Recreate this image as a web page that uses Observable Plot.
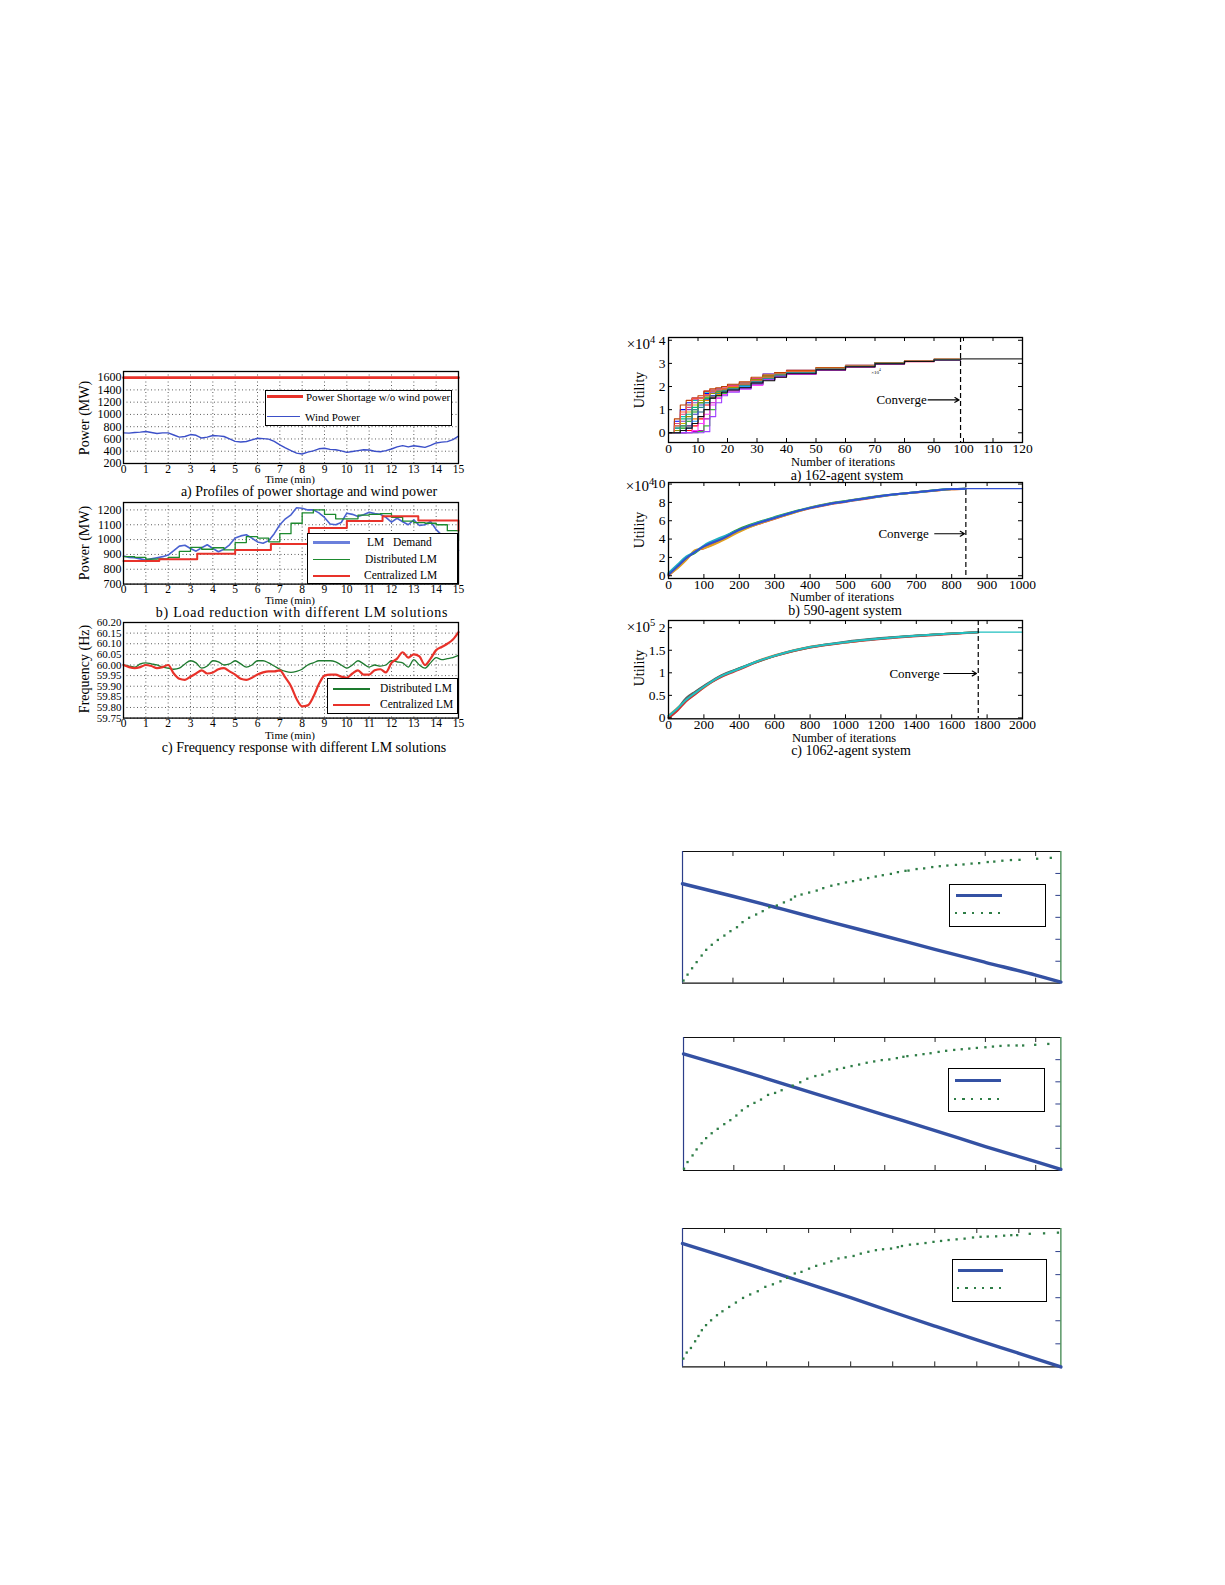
<!DOCTYPE html>
<html><head><meta charset="utf-8">
<script src="https://cdn.jsdelivr.net/npm/d3@7"></script>
<script src="https://cdn.jsdelivr.net/npm/@observablehq/plot@0.6"></script>
<style>
body{margin:0;background:#fff;}
#page{position:relative;width:1225px;height:1585px;overflow:hidden;background:#fff;font-family:"Liberation Serif","Times New Roman",serif;color:#000;}
.t{position:absolute;white-space:pre;transform:translate(-50%,-50%);line-height:1;}
.tl{position:absolute;white-space:pre;transform:translate(0,-50%);line-height:1;}
.bx{position:absolute;border:1.2px solid #000;box-sizing:border-box;background:#fff;}
.ln{position:absolute;}
sup{font-size:0.7em;}
</style></head><body><div id="page"></div>
<script>
// ---------------- DATA ----------------
// Left (a): power shortage & wind power
const minuteTicks = [0,1,2,3,4,5,6,7,8,9,10,11,12,13,14,15];
const powerTicksA = [200,400,600,800,1000,1200,1400,1600];
const shortageTime = [0, 15];
const shortage = [1600, 1600];
const windTime = [0,0.25,0.5,0.75,1,1.25,1.5,1.75,2,2.25,2.5,2.75,3,3.25,3.5,3.75,4,4.25,4.5,4.75,5,5.25,5.5,5.75,6,6.25,6.5,6.75,7,7.25,7.5,7.75,8,8.25,8.5,8.75,9,9.25,9.5,9.75,10,10.25,10.5,10.75,11,11.25,11.5,11.75,12,12.25,12.5,12.75,13,13.25,13.5,13.75,14,14.25,14.5,14.75,15];
const windPower = [700,695,705,712,722,705,690,700,700,665,630,640,672,660,615,630,656,650,640,600,560,550,558,585,612,605,598,560,505,455,410,370,355,385,405,440,448,430,425,405,382,395,410,425,420,400,392,410,436,470,492,470,490,478,462,495,535,548,557,590,645];

// Left (b): load reduction
const powerTicksB = [700,800,900,1000,1100,1200];
const demandTime = windTime;
const lmDemand = [889,880,878,870,862,870,878,885,896,925,956,962,940,922,945,965,940,918,935,965,1011,1025,1033,1010,984,975,993,1040,1100,1140,1167,1215,1211,1200,1200,1180,1149,1105,1100,1115,1178,1170,1156,1168,1184,1175,1171,1150,1118,1144,1120,1100,1133,1095,1100,1122,1067,1030,1000,965,927];
const distTime = [0,0.5,1,1.5,2,2.5,3,3.5,4,4.5,5,5.5,6,6.5,7,7.5,8,8.5,9,9.5,10,10.5,11,11.5,12,12.5,13,13.5,14,14.5,15];
const distributedLM = [885,880,868,870,880,920,948,935,945,930,980,1020,1010,985,1040,1110,1180,1200,1170,1140,1140,1165,1170,1175,1150,1125,1115,1110,1100,1060,990];
const centTime = [0,1.6,3.3,5,6.6,8.3,10,11.6,13.2,15];
const centralizedLM = [855,868,905,930,970,1078,1125,1158,1128,1060];

// Left (c): frequency response
const freqTicks = [59.75,59.80,59.85,59.90,59.95,60.00,60.05,60.10,60.15,60.20];
const freqTime = windTime;
const freqDistributed = [60.00,59.995,59.99,60.005,60.01,60.005,60.00,59.99,59.985,59.98,59.985,60.005,60.02,60.01,59.985,59.995,60.02,60.015,60.00,60.005,60.02,60.005,59.99,60.00,60.02,60.02,60.01,59.995,59.98,59.97,59.965,59.97,59.98,60.00,60.01,60.02,60.02,60.02,60.015,60.00,59.985,60.00,60.02,60.005,59.99,60.00,59.995,60.00,60.02,60.015,60.01,59.99,60.025,60.00,59.985,60.01,60.035,60.025,60.03,60.035,60.045];
const freqCentralized = [60.00,59.99,59.985,59.99,60.00,59.995,59.985,59.99,60.00,59.96,59.935,59.93,59.945,59.96,59.975,59.96,59.965,59.98,59.985,59.97,59.955,59.935,59.93,59.94,59.955,59.965,59.97,59.97,59.975,59.94,59.90,59.84,59.805,59.81,59.85,59.91,59.95,59.955,59.955,59.945,59.94,59.96,59.975,59.955,59.955,59.975,59.98,59.965,60.01,60.03,60.06,60.035,60.05,60.04,60.00,60.03,60.07,60.085,60.10,60.12,60.155];

// Right (a): 162-agent system (utility x1e4)
const iterTicksA = [0,10,20,30,40,50,60,70,80,90,100,110,120];
const utilTicksA = [0,1,2,3,4];
const iterA = [0,2,4,6,8,10,12,14,16,18,20,24,28,32,36,40,50,60,70,80,90,99];
const agentsA = [
  [0,0.5,1.0,1.3,1.5,1.5,1.7,1.8,1.85,1.9,2.0,2.1,2.3,2.45,2.55,2.65,2.78,2.9,3.0,3.1,3.17,3.2],
  [0,0,0.2,0.5,0.9,1.3,1.5,1.6,1.8,1.9,1.95,2.05,2.2,2.4,2.5,2.6,2.75,2.88,3.0,3.1,3.17,3.2],
  [0,0,0,0.1,0.3,0.6,1.2,1.55,1.7,1.8,1.9,2.0,2.15,2.3,2.45,2.55,2.72,2.87,3.0,3.08,3.16,3.2],
  [0,0.3,0.7,1.2,1.4,1.5,1.75,1.8,1.9,2.0,2.05,2.15,2.3,2.4,2.6,2.65,2.8,2.9,3.02,3.1,3.17,3.2],
  [0,0,0,0,0.05,0.1,0.6,1.3,1.5,1.7,1.85,2.0,2.2,2.35,2.5,2.6,2.74,2.86,2.98,3.08,3.16,3.2],
  [0,0.1,0.4,0.9,1.2,1.4,1.6,1.7,1.75,1.85,1.95,2.1,2.25,2.5,2.55,2.65,2.77,2.9,3.0,3.1,3.18,3.2],
  [0,0,0.1,0.3,0.6,0.9,1.4,1.5,1.65,1.8,1.9,2.0,2.1,2.3,2.4,2.55,2.7,2.85,2.97,3.07,3.15,3.2],
  [0,0.2,0.5,1.0,1.3,1.5,1.6,1.75,1.8,1.9,2.0,2.1,2.25,2.55,2.6,2.7,2.8,2.92,3.03,3.11,3.18,3.2],
  [0,0,0,0.2,0.5,0.9,1.3,1.6,1.7,1.75,1.9,2.0,2.2,2.3,2.45,2.6,2.75,2.88,3.0,3.09,3.16,3.2],
  [0,0.4,0.8,1.1,1.45,1.5,1.8,1.85,1.9,1.95,2.05,2.15,2.35,2.45,2.6,2.68,2.8,2.9,3.02,3.12,3.18,3.2],
  [0,0,0,0,0,0.05,0.3,1.0,1.6,1.7,1.8,1.95,2.1,2.4,2.5,2.62,2.76,2.89,3.01,3.1,3.17,3.2],
  [0,0.6,1.2,1.4,1.5,1.6,1.8,1.9,1.95,2.0,2.1,2.2,2.4,2.5,2.6,2.7,2.82,2.92,3.04,3.12,3.18,3.2],
  [0,0,0,0.3,0.8,1.2,1.45,1.6,1.7,1.8,1.85,1.95,2.15,2.35,2.45,2.58,2.74,2.87,2.99,3.09,3.16,3.2],
  [0,0.2,0.6,0.8,1.1,1.3,1.5,1.7,1.8,1.85,2.0,2.05,2.25,2.4,2.55,2.63,2.78,2.89,3.01,3.1,3.17,3.2],
  [0,0,0,0,0.1,0.4,0.8,1.2,1.5,1.65,1.8,1.9,2.05,2.3,2.4,2.52,2.7,2.84,2.97,3.07,3.15,3.2],
  [0,0.1,0.3,0.7,1.0,1.3,1.55,1.7,1.75,1.9,1.95,2.1,2.3,2.45,2.5,2.64,2.79,2.91,3.02,3.11,3.18,3.2],
  [0,0,0,0,0,0,0.05,0.7,1.3,1.6,1.75,1.9,2.1,2.3,2.45,2.56,2.73,2.86,2.99,3.08,3.16,3.2],
  [0,0.3,0.9,1.2,1.5,1.5,1.65,1.8,1.85,1.9,2.0,2.1,2.25,2.4,2.55,2.66,2.79,2.9,3.01,3.11,3.17,3.2],
  [0,0,0.3,0.6,1.0,1.1,1.3,1.5,1.7,1.8,1.9,2.05,2.2,2.35,2.5,2.6,2.76,2.88,3.0,3.09,3.16,3.2],
  [0,0,0.1,0.2,0.4,0.7,1.0,1.5,1.6,1.75,1.85,1.95,2.15,2.25,2.4,2.55,2.72,2.85,2.98,3.08,3.15,3.2]
];
const agentColorsA = ["#0000ff","#00a000","#ff0000","#00c0c0","#c000c0","#c8b400","#ff7f00","#7f3fbf","#1f9fff","#e0407f","#3fbf3f","#bf3f00","#3f3fbf","#00bf7f","#ff40ff","#8f8f00","#9f3fff","#ff5f3f","#2f8f8f","#111111"];
const convergeIterA = 99, finalIterA = 120, finalUtilA = 3.2;

// Right (b): 590-agent system (utility x1e4)
const iterTicksB = [0,100,200,300,400,500,600,700,800,900,1000];
const utilTicksB = [0,2,4,6,8,10];
const iterB = [0,25,50,75,100,150,200,250,300,350,400,450,500,600,700,800,840];
const agentsB = [
  [0.0,0.9,1.8,2.7,3.0,3.9,4.9,5.6,6.2,6.85,7.35,7.75,8.05,8.65,9.08,9.43,9.5],
  [0.2,1.1,2.0,2.5,3.2,4.1,5.1,5.8,6.4,6.95,7.45,7.85,8.15,8.72,9.12,9.46,9.5],
  [0.1,0.8,1.7,2.8,3.0,3.8,4.8,5.6,6.25,6.8,7.4,7.8,8.1,8.7,9.1,9.44,9.5],
  [0.3,1.2,2.1,2.6,3.3,4.2,5.0,5.75,6.35,6.9,7.4,7.8,8.1,8.68,9.1,9.45,9.5],
  [0.1,1.0,1.9,2.6,3.2,4.0,5.0,5.7,6.3,6.9,7.4,7.8,8.1,8.7,9.1,9.45,9.5]
];
const agentColorsB = ["#e03030","#30a030","#e0a020","#20b0c0","#3050d0"];
const convergeIterB = 840, finalIterB = 1000, finalUtilB = 9.5;

// Right (c): 1062-agent system (utility x1e5)
const iterTicksC = [0,200,400,600,800,1000,1200,1400,1600,1800,2000];
const utilTicksC = [0,0.5,1,1.5,2];
const iterC = [0,50,100,150,200,300,400,500,600,800,1000,1200,1400,1600,1750];
const agentsC = [
  [0.0,0.18,0.42,0.57,0.7,0.92,1.1,1.24,1.37,1.56,1.68,1.76,1.82,1.87,1.9],
  [0.05,0.22,0.38,0.53,0.67,0.94,1.08,1.26,1.39,1.58,1.67,1.76,1.82,1.87,1.9],
  [0.02,0.2,0.44,0.58,0.71,0.95,1.1,1.25,1.38,1.57,1.69,1.77,1.83,1.87,1.9],
  [0.0,0.16,0.37,0.52,0.68,0.91,1.07,1.24,1.37,1.56,1.67,1.75,1.81,1.86,1.9],
  [0.04,0.21,0.4,0.55,0.69,0.93,1.09,1.25,1.38,1.57,1.68,1.76,1.82,1.87,1.9]
];
const agentColorsC = ["#30a040","#e08040","#606060","#d03030","#20c0c0"];
const convergeIterC = 1750, finalIterC = 2000, finalUtilC = 1.9;

// Bottom charts (unlabelled dual-axis plots)
const b1LineX = [0,1,2,3,4,5,6,7,7.5];
const b1LineY = [4.53,3.96,3.36,2.75,2.15,1.54,0.95,0.37,0.05];
const b1DotX = [0.02,0.10,0.19,0.28,0.38,0.47,0.58,0.70,0.83,0.95,1.08,1.19,1.32,1.46,1.59,1.72,1.87,2.01,2.15,2.23,2.36,2.51,2.66,2.79,2.95,3.09,3.24,3.38,3.53,3.68,3.83,3.97,4.13,4.27,4.42,4.48,4.64,4.79,4.95,5.10,5.25,5.42,5.57,5.73,5.88,6.05,6.18,6.34,6.51,6.68,7.03,7.30];
const b1DotY = [0.12,0.39,0.68,0.96,1.26,1.52,1.75,1.97,2.17,2.37,2.55,2.78,2.98,3.13,3.28,3.46,3.54,3.68,3.81,3.95,4.04,4.13,4.22,4.33,4.44,4.51,4.59,4.65,4.72,4.79,4.86,4.92,4.98,5.06,5.12,5.13,5.20,5.23,5.29,5.33,5.36,5.39,5.41,5.45,5.47,5.52,5.54,5.58,5.61,5.62,5.67,5.71];
const b2LineX = [0,1,2,3,4,5,6,7,7.5];
const b2LineY = [5.26,4.6,3.9,3.2,2.5,1.8,1.08,0.4,0.05];
const b2DotX = [0.01,0.08,0.18,0.26,0.36,0.45,0.56,0.68,0.81,0.93,1.05,1.16,1.28,1.41,1.54,1.68,1.82,1.95,2.17,2.32,2.46,2.62,2.76,2.90,3.05,3.19,3.34,3.49,3.64,3.79,3.94,4.09,4.24,4.37,4.45,4.62,4.77,4.91,5.07,5.22,5.38,5.53,5.68,5.83,6.0,6.15,6.30,6.46,6.62,6.75,6.99,7.25];
const b2DotY = [0.08,0.38,0.68,0.95,1.23,1.46,1.68,1.88,2.09,2.27,2.48,2.71,2.90,3.05,3.20,3.41,3.50,3.62,3.83,3.98,4.14,4.26,4.32,4.47,4.56,4.63,4.71,4.78,4.86,4.92,4.98,5.01,5.07,5.13,5.16,5.20,5.25,5.29,5.35,5.40,5.44,5.47,5.50,5.53,5.56,5.59,5.62,5.64,5.64,5.64,5.67,5.71];
const b3LineX = [0,1,2,3,4,5,6,7,8,9];
const b3LineY = [5.35,4.78,4.19,3.6,3.0,2.38,1.77,1.17,0.59,0.0];
const b3DotX = [0.02,0.10,0.2,0.3,0.38,0.46,0.56,0.68,0.82,0.95,1.11,1.27,1.44,1.61,1.79,1.97,2.15,2.33,2.49,2.67,2.83,3.01,3.18,3.37,3.54,3.71,3.88,4.07,4.24,4.42,4.6,4.77,4.96,5.12,5.22,5.41,5.59,5.78,5.97,6.15,6.33,6.52,6.71,6.91,7.09,7.26,7.46,7.65,7.82,7.96,8.26,8.60,8.93];
const b3DotY = [0.36,0.62,0.82,1.11,1.34,1.59,1.81,2.02,2.24,2.41,2.60,2.79,2.99,3.14,3.28,3.47,3.58,3.71,3.86,4.05,4.12,4.26,4.38,4.48,4.58,4.70,4.75,4.81,4.91,4.99,5.06,5.10,5.13,5.19,5.24,5.30,5.33,5.37,5.42,5.46,5.50,5.53,5.56,5.61,5.64,5.65,5.66,5.69,5.71,5.71,5.77,5.79,5.82];

// ---------------- HELPERS ----------------
const page = document.getElementById("page");
const SERIF = "Liberation Serif, Times New Roman, serif";

function mount(svg, fl, ft, ml, mt) {
  svg.style.position = "absolute";
  svg.style.left = (fl - ml) + "px";
  svg.style.top = (ft - mt) + "px";
  svg.style.maxWidth = "none";
  svg.style.overflow = "visible";
  page.appendChild(svg);
}
function text(html, x, y, size, rot, extra) {
  const d = document.createElement("div");
  d.className = "t";
  d.style.left = x + "px"; d.style.top = y + "px"; d.style.fontSize = size + "px";
  if (rot) d.style.transform = "translate(-50%,-50%) rotate(-90deg)";
  if (extra) Object.assign(d.style, extra);
  d.innerHTML = html;
  page.appendChild(d);
}
function textL(html, x, y, size) {
  const d = document.createElement("div");
  d.className = "tl";
  d.style.left = x + "px"; d.style.top = y + "px"; d.style.fontSize = size + "px";
  d.innerHTML = html;
  page.appendChild(d);
}
function box(x1, y1, x2, y2) {
  const d = document.createElement("div");
  d.className = "bx";
  Object.assign(d.style, {left: x1 + "px", top: y1 + "px", width: (x2 - x1) + "px", height: (y2 - y1) + "px"});
  page.appendChild(d);
}
function hline(x1, x2, y, color, w) {
  const d = document.createElement("div");
  d.className = "ln";
  Object.assign(d.style, {left: x1 + "px", top: (y - w / 2) + "px", width: (x2 - x1) + "px", height: w + "px", background: color});
  page.appendChild(d);
}
function dotRow(x1, x2, y, n, color, r) {
  for (let i = 0; i < n; i++) {
    const x = x1 + (x2 - x1) * i / (n - 1);
    const d = document.createElement("div");
    d.className = "ln";
    Object.assign(d.style, {left: (x - r) + "px", top: (y - r) + "px", width: 2 * r + "px", height: 2 * r + "px", background: color});
    page.appendChild(d);
  }
}

// ---------------- LEFT CHARTS ----------------
function leftChart({fl, ft, fw, fh, yDom, yTicks, yFmt, ySize, marks}) {
  const ml = 50, mr = 12, mt = 10, mb = 30;
  const svg = Plot.plot({
    width: ml + fw + mr, height: mt + fh + mb,
    marginLeft: ml, marginRight: mr, marginTop: mt, marginBottom: mb,
    x: {domain: [0, 15]}, y: {domain: yDom},
    style: {background: "transparent", fontFamily: SERIF, fontSize: "11.5px", color: "#000", overflow: "visible"},
    marks: [
      Plot.ruleX(minuteTicks, {stroke: "#000", strokeOpacity: 0.8, strokeDasharray: "1,2.5", strokeWidth: 0.8}),
      Plot.ruleY(yTicks, {stroke: "#000", strokeOpacity: 0.8, strokeDasharray: "1,2.5", strokeWidth: 0.8}),
      ...marks,
      Plot.frame({stroke: "#000", strokeWidth: 1.3}),
      Plot.axisX({ticks: minuteTicks, tickSize: 0, tickPadding: 1, label: null, fontSize: 11.5, fontFamily: SERIF}),
      Plot.axisY({ticks: yTicks, tickSize: 0, tickPadding: 2, label: null, tickFormat: yFmt, fontSize: ySize, fontFamily: SERIF})
    ]
  });
  mount(svg, fl, ft, ml, mt);
}

leftChart({
  fl: 123.3, ft: 370.7, fw: 335, fh: 92, yDom: [200, 1700], yTicks: powerTicksA, yFmt: d => String(d), ySize: 12,
  marks: [
    Plot.line(shortage, {x: shortageTime, y: shortage, stroke: "#e8322a", strokeWidth: 2.6}),
    Plot.line(windPower, {x: windTime, y: windPower, stroke: "#3b4fc8", strokeWidth: 1.4})
  ]
});
leftChart({
  fl: 123.3, ft: 501.7, fw: 335, fh: 81.6, yDom: [700, 1250], yTicks: powerTicksB, yFmt: d => String(d), ySize: 12,
  marks: [
    Plot.line(lmDemand, {x: demandTime, y: lmDemand, stroke: "#4a62d0", strokeWidth: 1.6}),
    Plot.line(distributedLM, {x: distTime, y: distributedLM, stroke: "#1d8a2e", strokeWidth: 1.3, curve: "step-after"}),
    Plot.line(centralizedLM, {x: centTime, y: centralizedLM, stroke: "#e8322a", strokeWidth: 2, curve: "step-after"})
  ]
});
leftChart({
  fl: 123.3, ft: 621.7, fw: 335, fh: 95.6, yDom: [59.75, 60.20], yTicks: freqTicks, yFmt: d3.format(".2f"), ySize: 11,
  marks: [
    Plot.line(freqDistributed, {x: freqTime, y: freqDistributed, stroke: "#1d7a2e", strokeWidth: 1.3, curve: "monotone-x"}),
    Plot.line(freqCentralized, {x: freqTime, y: freqCentralized, stroke: "#e8322a", strokeWidth: 2.2, curve: "monotone-x"})
  ]
});

// left labels
text("Power (MW)", 85, 418, 14, true);
text("Power (MW)", 85, 543, 14, true);
text("Frequency (Hz)", 85, 669, 14, true);
text("Time (min)", 290, 479.3, 11);
text("Time (min)", 290, 600.3, 11);
text("Time (min)", 290, 735.3, 11);
text("a) Profiles of power shortage and wind power", 309, 492.3, 14);
text("b) Load reduction with different LM solutions", 302, 612.8, 14, false, {letterSpacing: "0.75px"});
text("c) Frequency response with different LM solutions", 304, 747.8, 14);

// left legends
box(265, 389.5, 451.5, 425.5);
hline(267, 303, 396.5, "#e8322a", 2.4); textL("Power Shortage w/o wind power", 306, 396.5, 11);
hline(267, 300, 416.5, "#3b4fc8", 1.3); textL("Wind Power", 305, 416.5, 11);

box(306.5, 532.5, 458.3, 583.5);
hline(313, 350, 542.7, "#6b80dc", 2.6); textL("LM   Demand", 367, 542.7, 11.5);
hline(313, 350, 559.5, "#1d8a2e", 1.6); textL("Distributed LM", 365, 559.5, 11.5);
hline(313, 350, 575.5, "#e8322a", 2); textL("Centralized LM", 364, 575.5, 11.5);

box(326.5, 677.5, 458.3, 713.5);
hline(333, 370, 689, "#1d7a2e", 1.5); textL("Distributed LM", 380, 689, 11.5);
hline(333, 370, 705, "#e8322a", 2.6); textL("Centralized LM", 380, 705, 11.5);

// ---------------- RIGHT CHARTS ----------------
function rightChart({fl, ft, fw, fh, xDom, yDom, xTicks, yTicks, marks}) {
  const ml = 45, mr = 12, mt = 10, mb = 26;
  const lx = (xDom[1] - xDom[0]) * 4 / fw, ly = (yDom[1] - yDom[0]) * 4 / fh;
  const svg = Plot.plot({
    width: ml + fw + mr, height: mt + fh + mb,
    marginLeft: ml, marginRight: mr, marginTop: mt, marginBottom: mb,
    x: {domain: xDom}, y: {domain: yDom},
    style: {background: "transparent", fontFamily: SERIF, fontSize: "13.5px", color: "#000", overflow: "visible"},
    marks: [
      ...marks,
      Plot.ruleX(xTicks, {x: d => d, y1: yDom[1], y2: yDom[1] - ly, stroke: "#000"}),
      Plot.ruleX(xTicks, {x: d => d, y1: yDom[0], y2: yDom[0] + ly, stroke: "#000"}),
      Plot.ruleY(yTicks, {y: d => d, x1: xDom[0], x2: xDom[0] + lx, stroke: "#000"}),
      Plot.ruleY(yTicks, {y: d => d, x1: xDom[1], x2: xDom[1] - lx, stroke: "#000"}),
      Plot.frame({stroke: "#000", strokeWidth: 1.3}),
      Plot.axisX({ticks: xTicks, tickSize: 0, tickPadding: 1, label: null, tickFormat: d3.format("d"), fontSize: 13.5, fontFamily: SERIF}),
      Plot.axisY({ticks: yTicks, tickSize: 0, tickPadding: 3, label: null, tickFormat: d3.format("~g"), fontSize: 13.5, fontFamily: SERIF})
    ]
  });
  mount(svg, fl, ft, ml, mt);
}

function agentMarks(iters, agents, colors, w, curve) {
  return agents.map((a, i) => Plot.line(a, {x: iters, y: a, stroke: colors[i % colors.length], strokeWidth: w, curve}));
}
function convergeMarks(cx, tx, ty, ax1, ax2) {
  return [
    Plot.ruleX([cx], {stroke: "#000", strokeWidth: 1.2, strokeDasharray: "5,3"}),
    Plot.text(["Converge"], {x: tx, y: ty, fontFamily: SERIF, fontSize: 13, fill: "#000"}),
    Plot.arrow([0], {x1: ax1, x2: ax2, y1: ty, y2: ty, stroke: "#000", strokeWidth: 1.2, headLength: 6})
  ];
}

rightChart({
  fl: 668.3, ft: 337.3, fw: 354, fh: 105, xDom: [0, 120], yDom: [-0.42, 4.12], xTicks: iterTicksA, yTicks: utilTicksA,
  marks: [
    ...agentMarks(iterA, agentsA, agentColorsA, 1.1, "step-after"),
    Plot.line([finalUtilA, finalUtilA], {x: [convergeIterA, finalIterA], y: [finalUtilA, finalUtilA], stroke: "#333", strokeWidth: 1.2}),
    ...convergeMarks(convergeIterA, 79, 1.42, 88, 98.5)
  ]
});
rightChart({
  fl: 668.3, ft: 481.7, fw: 354, fh: 96, xDom: [0, 1000], yDom: [-0.3, 10.17], xTicks: iterTicksB, yTicks: utilTicksB,
  marks: [
    ...agentMarks(iterB, agentsB, agentColorsB, 2, "monotone-x"),
    Plot.line([finalUtilB, finalUtilB], {x: [convergeIterB, finalIterB], y: [finalUtilB, finalUtilB], stroke: "#3050d0", strokeWidth: 1.3}),
    ...convergeMarks(convergeIterB, 664, 4.58, 752, 836)
  ]
});
rightChart({
  fl: 668.3, ft: 620, fw: 354, fh: 98.3, xDom: [0, 2000], yDom: [-0.02, 2.16], xTicks: iterTicksC, yTicks: utilTicksC,
  marks: [
    ...agentMarks(iterC, agentsC, agentColorsC, 2, "monotone-x"),
    Plot.line([finalUtilC, finalUtilC], {x: [convergeIterC, finalIterC], y: [finalUtilC, finalUtilC], stroke: "#20c0c0", strokeWidth: 1.3}),
    ...convergeMarks(convergeIterC, 1390, 0.985, 1555, 1740)
  ]
});

// right labels
text("×10<sup>4</sup>", 641, 343, 15);
text("×10<sup>4</sup>", 640, 485, 15);
text("×10<sup>5</sup>", 641, 626, 15);
text("×10<sup>4</sup>", 876, 372, 5);
text("Utility", 640, 390, 14, true);
text("Utility", 640, 530, 14, true);
text("Utility", 640, 668, 14, true);
text("Number of iterations", 843, 462.3, 12.5);
text("a) 162-agent system", 847, 476, 14);
text("Number of iterations", 842, 597.3, 12.5);
text("b) 590-agent system", 845, 610.8, 14);
text("Number of iterations", 844, 738, 12.5);
text("c) 1062-agent system", 851, 751, 14);

// ---------------- BOTTOM CHARTS ----------------
function bottomChart({fl, ft, fw, fh, xMax, lx, ly, dx, dy}) {
  const m = 6;
  const xt = d3.range(1, Math.floor(xMax) + 1).filter(v => v < xMax);
  const yt = [1, 2, 3, 4, 5];
  const tx = xMax * 5 / fw, ty = 6 * 5 / fh;
  const svg = Plot.plot({
    width: fw + 2 * m, height: fh + 2 * m,
    marginLeft: m, marginRight: m, marginTop: m, marginBottom: m,
    x: {domain: [0, xMax], axis: null}, y: {domain: [0, 6], axis: null},
    style: {background: "transparent", overflow: "visible"},
    marks: [
      Plot.ruleX(xt, {x: d => d, y1: 6, y2: 6 - ty, stroke: "#222"}),
      Plot.ruleX(xt, {x: d => d, y1: 0, y2: ty, stroke: "#222"}),
      Plot.ruleY(yt, {y: d => d, x1: xMax, x2: xMax - tx, stroke: "#2c3e8a"}),
      Plot.ruleY([0, 6], {stroke: "#111", strokeWidth: 1.2}),
      Plot.ruleX([0], {stroke: "#2c3e8a", strokeWidth: 1.2}),
      Plot.ruleX([xMax], {stroke: "#2f7d3e", strokeWidth: 1.2}),
      Plot.line(ly, {x: lx, y: ly, stroke: "#3451a3", strokeWidth: 3.4, curve: "monotone-x"}),
      Plot.dot(dy, {x: dx, y: dy, fill: "#2e7d46", r: 1.3, symbol: "square"})
    ]
  });
  mount(svg, fl, ft, m, m);
}
bottomChart({fl: 682.3, ft: 851, fw: 378.4, fh: 131.7, xMax: 7.5, lx: b1LineX, ly: b1LineY, dx: b1DotX, dy: b1DotY});
bottomChart({fl: 683.3, ft: 1037, fw: 377.4, fh: 133, xMax: 7.5, lx: b2LineX, ly: b2LineY, dx: b2DotX, dy: b2DotY});
bottomChart({fl: 682.3, ft: 1228.3, fw: 378.4, fh: 138.4, xMax: 9, lx: b3LineX, ly: b3LineY, dx: b3DotX, dy: b3DotY});

box(949.3, 884, 1045.7, 926.7);
hline(956, 1002, 895.7, "#3451a3", 3.2); dotRow(956, 999, 913.3, 6, "#2e7d46", 1.2);
box(947.7, 1068.3, 1045, 1111.7);
hline(955, 1001, 1080.7, "#3451a3", 3.2); dotRow(955, 998, 1099, 6, "#2e7d46", 1.2);
box(951.7, 1259.3, 1047.3, 1301.7);
hline(958, 1003, 1270.7, "#3451a3", 3.2); dotRow(958, 1000, 1288.3, 6, "#2e7d46", 1.2);
</script>
</body></html>
